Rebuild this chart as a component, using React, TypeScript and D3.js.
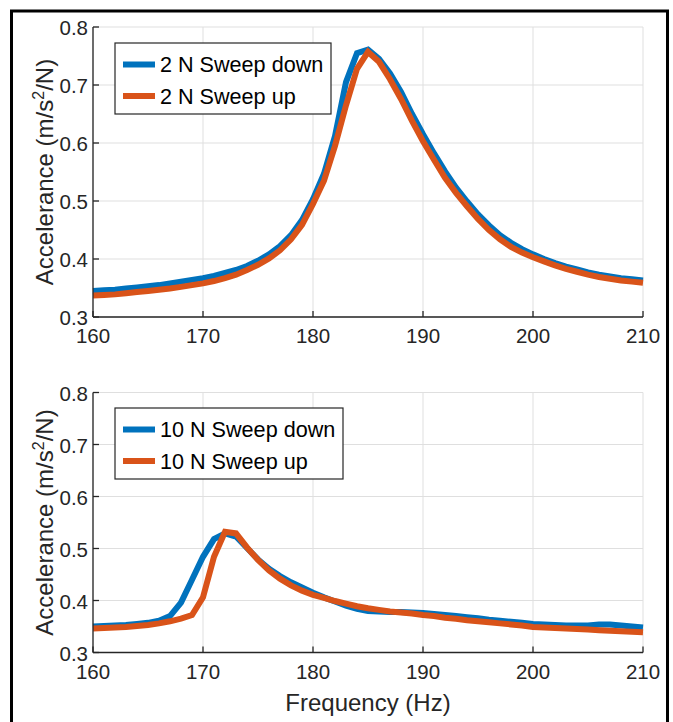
import React from "react";
import * as d3 from "d3";

const freqs = d3.range(160, 211);
const down2N = [0.345,0.346,0.347,0.349,0.351,0.353,0.355,0.358,0.361,0.364,0.367,0.371,0.376,0.381,0.388,0.397,0.408,0.422,0.441,0.467,0.503,0.547,0.612,0.705,0.755,0.761,0.745,0.72,0.688,0.650,0.615,0.582,0.551,0.523,0.499,0.477,0.458,0.441,0.428,0.417,0.408,0.400,0.393,0.387,0.382,0.377,0.373,0.370,0.367,0.365,0.363];
const up2N = [0.337,0.338,0.339,0.341,0.343,0.345,0.347,0.349,0.352,0.355,0.358,0.362,0.367,0.373,0.381,0.390,0.401,0.415,0.434,0.459,0.495,0.535,0.595,0.665,0.728,0.757,0.740,0.710,0.676,0.638,0.603,0.571,0.540,0.514,0.491,0.469,0.450,0.434,0.421,0.411,0.403,0.396,0.389,0.383,0.378,0.373,0.369,0.366,0.363,0.361,0.359];
const down10N = [0.350,0.351,0.352,0.353,0.355,0.357,0.361,0.370,0.396,0.440,0.484,0.518,0.529,0.523,0.501,0.479,0.461,0.447,0.435,0.425,0.415,0.406,0.398,0.390,0.384,0.380,0.379,0.378,0.378,0.377,0.376,0.374,0.372,0.370,0.368,0.366,0.363,0.361,0.359,0.357,0.355,0.354,0.353,0.352,0.352,0.352,0.354,0.354,0.352,0.350,0.348];
const up10N = [0.346,0.347,0.348,0.349,0.351,0.353,0.356,0.360,0.365,0.372,0.406,0.484,0.532,0.529,0.502,0.478,0.458,0.442,0.429,0.419,0.411,0.405,0.399,0.394,0.389,0.385,0.382,0.379,0.377,0.375,0.372,0.370,0.367,0.365,0.362,0.360,0.358,0.356,0.354,0.352,0.349,0.348,0.347,0.346,0.345,0.344,0.343,0.342,0.341,0.340,0.339];

const xTicks = [160, 170, 180, 190, 200, 210];
const yTicks = [0.3, 0.4, 0.5, 0.6, 0.7, 0.8];
const topLegend = ["2 N Sweep down", "2 N Sweep up"];
const bottomLegend = ["10 N Sweep down", "10 N Sweep up"];

const BLUE = "#0072BD";
const ORANGE = "#D95319";
const AX = "#262626";
const GRID = "#dfdfdf";
const FONT = "'Liberation Sans', Arial, Helvetica, sans-serif";

type PanelProps = {
  top: number;
  bottom: number;
  a: number[];
  b: number[];
  labels: string[];
  legendW: number;
  legendY: number;
  showXLabel: boolean;
};

function Panel({ top, bottom, a, b, labels, legendW, legendY, showXLabel }: PanelProps) {
  const left = 93;
  const right = 643;
  const x = d3.scaleLinear().domain([160, 210]).range([left, right]);
  const y = d3.scaleLinear().domain([0.3, 0.8]).range([bottom, top]);
  const line = d3
    .line<number>()
    .x((_, i) => x(freqs[i]))
    .y((d) => y(d));
  const cy = (top + bottom) / 2;
  return (
    <g>
      {xTicks.map((t) => (
        <line key={"gx" + t} x1={x(t)} x2={x(t)} y1={top} y2={bottom} stroke={GRID} strokeWidth={1} />
      ))}
      {yTicks.map((t) => (
        <line key={"gy" + t} x1={left} x2={right} y1={y(t)} y2={y(t)} stroke={GRID} strokeWidth={1} />
      ))}
      <path d={line(a) || ""} fill="none" stroke={BLUE} strokeWidth={6} />
      <path d={line(b) || ""} fill="none" stroke={ORANGE} strokeWidth={6} />
      <line x1={left} x2={left} y1={top} y2={bottom} stroke={AX} strokeWidth={1.3} />
      <line x1={left} x2={right} y1={bottom} y2={bottom} stroke={AX} strokeWidth={1.3} />
      {xTicks.map((t) => (
        <g key={"tx" + t}>
          <line x1={x(t)} x2={x(t)} y1={bottom} y2={bottom - 6} stroke={AX} strokeWidth={1.3} />
          <text x={x(t)} y={bottom + 26} textAnchor="middle" fontSize={20.5} fill={AX} fontFamily={FONT}>
            {t}
          </text>
        </g>
      ))}
      {yTicks.map((t) => (
        <g key={"ty" + t}>
          <line x1={left} x2={left + 6} y1={y(t)} y2={y(t)} stroke={AX} strokeWidth={1.3} />
          <text x={left - 5} y={y(t) + 8} textAnchor="end" fontSize={20.5} fill={AX} fontFamily={FONT}>
            {t.toFixed(1)}
          </text>
        </g>
      ))}
      <text
        transform={`translate(53,${cy}) rotate(-90)`}
        textAnchor="middle"
        fontSize={24}
        fill={AX}
        fontFamily={FONT}
      >
        Accelerance (m/s<tspan fontSize={16} dy={-9}>2</tspan>
        <tspan dy={9}>/N)</tspan>
      </text>
      {showXLabel && (
        <text x={(left + right) / 2} y={bottom + 58} textAnchor="middle" fontSize={24} fill={AX} fontFamily={FONT}>
          Frequency (Hz)
        </text>
      )}
      <g>
        <rect x={115} y={legendY} width={legendW} height={71} fill="white" stroke={AX} strokeWidth={1.2} />
        {labels.map((l, i) => {
          const ry = legendY + 21.5 + i * 31.5;
          return (
            <g key={l}>
              <line x1={123} x2={155} y1={ry} y2={ry} stroke={i === 0 ? BLUE : ORANGE} strokeWidth={6} />
              <text x={160} y={ry + 7.5} fontSize={21.6} fill="#000" fontFamily={FONT}>
                {l}
              </text>
            </g>
          );
        })}
      </g>
    </g>
  );
}

export default function App() {
  return (
    <svg
      width={673}
      height={722}
      style={{ position: "absolute", left: 0, top: 0, background: "white" }}
    >
      <rect x={0} y={0} width={673} height={722} fill="white" />
      <rect x={11.5} y={11} width={656} height={720} fill="none" stroke="#000" strokeWidth={3} />
      <Panel top={27} bottom={317} a={down2N} b={up2N} labels={topLegend} legendW={216} legendY={43} showXLabel={false} />
      <Panel top={392.5} bottom={652.5} a={down10N} b={up10N} labels={bottomLegend} legendW={228} legendY={408} showXLabel={true} />
    </svg>
  );
}
